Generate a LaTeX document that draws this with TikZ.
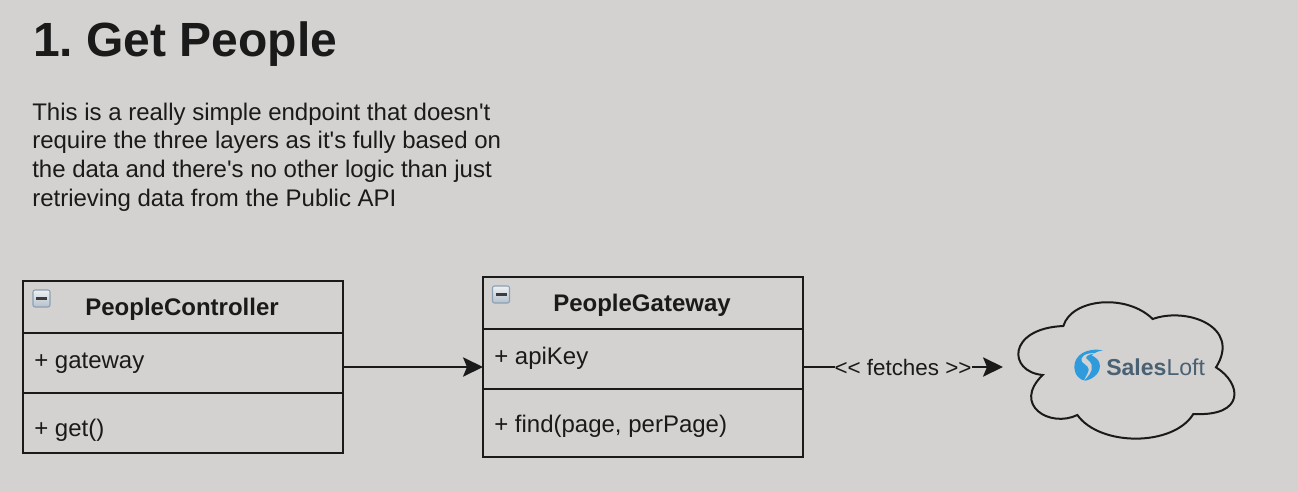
\documentclass[tikz,border=0pt]{standalone}
\usepackage{fontspec}
\setmainfont{Liberation Sans}
\usetikzlibrary{arrows.meta}
\definecolor{bg}{HTML}{D3D2D0}
\definecolor{ink}{HTML}{1A1A1A}
\definecolor{slgrey}{HTML}{4A6173}
\definecolor{slblue}{HTML}{2F9BDC}
\definecolor{iconedge}{HTML}{8CA0B4}
\definecolor{icontop}{HTML}{EEF1F3}
\definecolor{iconbot}{HTML}{B4C0CB}
\tikzset{
  classbox/.style={draw=ink,line width=1.5pt,minimum width=240pt,inner sep=0pt,outer sep=0pt},
  member/.style={anchor=base west,inner sep=0pt,font=\fontsize{18}{21}\selectfont,text=ink},
  classname/.style={anchor=base,inner sep=0pt,font=\fontsize{18}{21}\selectfont\bfseries,text=ink},
  sep/.style={draw=ink,line width=1.5pt},
  flow/.style={draw=ink,line width=1.3pt,-{Stealth[length=15pt,width=14.5pt,inset=3pt]}},
  para/.style={anchor=north west,inner sep=0pt,align=left,text=ink,font=\fontsize{18}{21.6}\selectfont},
}
\newcommand{\minusicon}[2]{%
  \draw[draw=iconedge,line width=.8pt,rounded corners=1.5pt,top color=icontop,bottom color=iconbot]
    (#1,#2) rectangle ++(17,17);
  \fill[ink!85] (#1+3,#2+7) rectangle ++(11,3);
}
\newcommand{\apos}{\textquotesingle}
\begin{document}
\frenchspacing
\begin{tikzpicture}[x=0.75pt,y=-0.75pt]
\useasboundingbox (0,0) rectangle (1298,492);
\fill[bg] (0,0) rectangle (1298,492);

\node[anchor=base west,inner sep=0pt,text=ink,font=\fontsize{36}{40}\selectfont\bfseries] (title) at (33,57) {1. Get People};
\node[para] (intro) at (32,102.5) {This is a really simple endpoint that doesn\apos t\\require the three layers as it\apos s fully based on\\the data and there\apos s no other logic than just\\retrieving data from the Public API};

% PeopleController
\node[classbox,minimum height=129pt] (pc) at (183,367) {};
\draw[sep] (pc.west |- 0,333) -- (pc.east |- 0,333);
\draw[sep] (pc.west |- 0,393) -- (pc.east |- 0,393);
\minusicon{33}{290}
\node[classname] (pcname) at (182,315) {PeopleController};
\node[member] (pcattr) at (34,368) {+ gateway};
\node[member] (pcop) at (34,436) {+ get()};

% PeopleGateway
\node[classbox,minimum height=135pt] (pg) at (643,367) {};
\draw[sep] (pg.west |- 0,329) -- (pg.east |- 0,329);
\draw[sep] (pg.west |- 0,389) -- (pg.east |- 0,389);
\minusicon{492.5}{286}
\node[classname] (pgname) at (642,311) {PeopleGateway};
\node[member] (pgattr) at (494,364) {+ apiKey};
\node[member] (pgop) at (494,432) {+ find(page, perPage)};

% Cloud
\begin{scope}[shift={(1000,290)},x=0.25pt,y=-0.25pt]
\draw[ink,line width=1.5pt,line join=miter]
  (190,108)
  .. controls (215,25) and (380,10) .. (458,87)
  .. controls (560,50) and (725,110) .. (648,232)
  .. controls (725,280) and (738,380) .. (580,372)
  .. controls (520,470) and (300,470) .. (232,375)
  .. controls (150,415) and (35,345) .. (128,255)
  .. controls (22,245) and (22,115) .. (190,108) -- cycle;
\end{scope}
\coordinate (cloudin) at (1003,367);

% Logo
\begin{scope}[shift={(1065,340)},x=0.25pt,y=-0.25pt]
\fill[slblue] (114,31)
  .. controls (65,22) and (28,45) .. (28,80)
  .. controls (28,105) and (45,122) .. (62,122)
  .. controls (90,115) and (108,95) .. (104,72)
  .. controls (102,60) and (92,52) .. (80,46)
  .. controls (88,38) and (100,33) .. (114,31) -- cycle;
\fill[bg] (95,39)
  .. controls (62,38) and (42,50) .. (52,66)
  .. controls (60,76) and (78,78) .. (68,100)
  .. controls (64,108) and (60,114) .. (58,120)
  .. controls (66,112) and (85,95) .. (80,75)
  .. controls (76,60) and (58,58) .. (64,50)
  .. controls (68,44) and (82,41) .. (95,39) -- cycle;
\end{scope}
\node[anchor=west,inner sep=0pt,text=slgrey,font=\fontsize{17.3}{20}\selectfont] (logo) at (1106,367) {\textbf{Sales}Loft};

% Connectors
\draw[flow] (pc.east) -- (pg.west);
\draw[flow] (pg.east) -- (cloudin) node[pos=.5,fill=bg,inner sep=0pt,text=ink,font=\fontsize{16.8}{20}\selectfont] (fetches) {<{}< fetches >{}>};
\end{tikzpicture}
\end{document}
